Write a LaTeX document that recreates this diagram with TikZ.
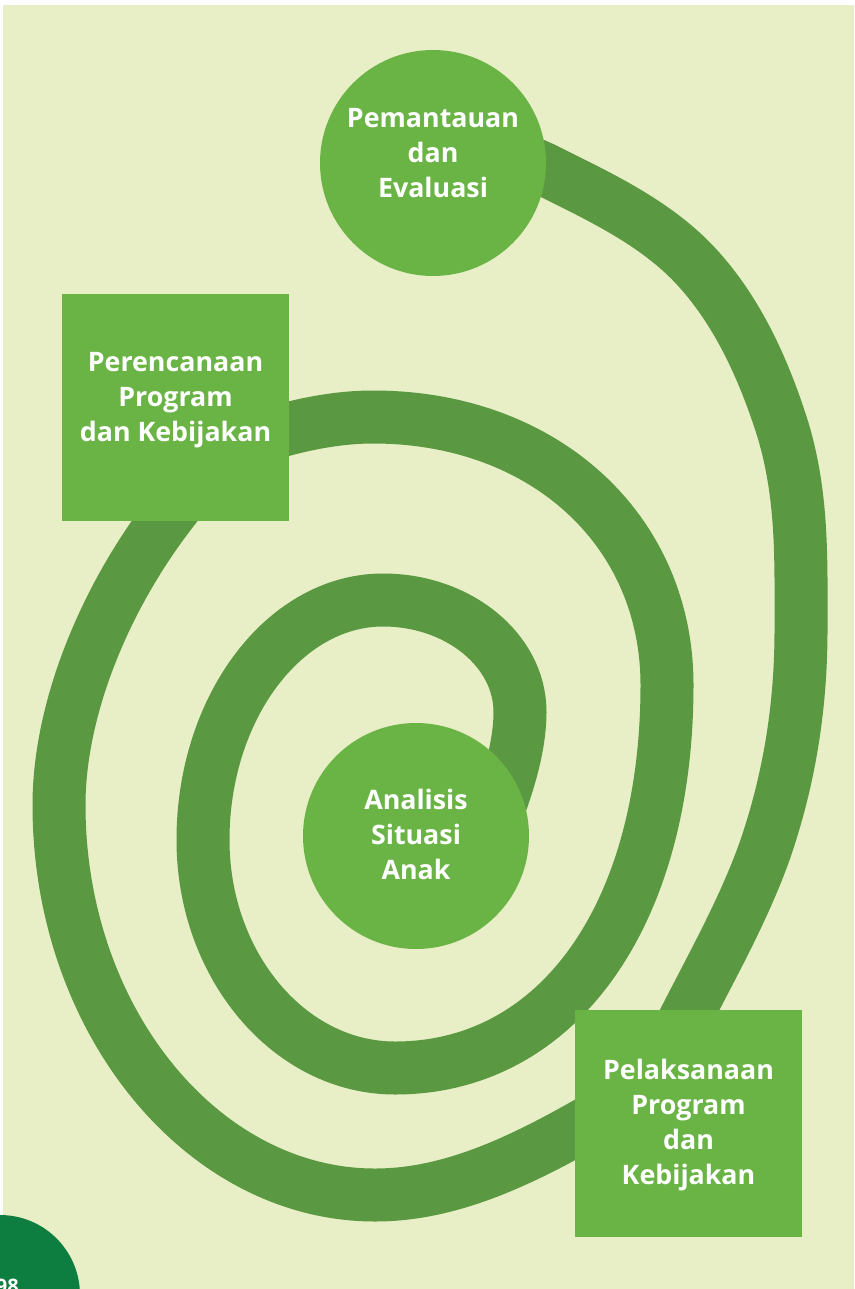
\documentclass[tikz,border=0pt]{standalone}
\usepackage{fontspec}
\setmainfont{Open Sans}
\definecolor{bgc}{HTML}{E8EEC6}
\definecolor{spc}{HTML}{5A9942}
\definecolor{ndc}{HTML}{6AB446}
\definecolor{dkc}{HTML}{0E7D40}
\tikzset{
  spiral/.style={draw=spc, line width=53pt, line cap=butt, line join=round},
  disc/.style={circle, fill=ndc, minimum size=226pt, inner sep=0pt},
  sqbox/.style={rectangle, fill=ndc, minimum size=227pt, inner sep=0pt},
  lbl/.style={text=white, align=center, font=\fontsize{26.8}{35}\selectfont\bfseries, inner sep=0pt}
}
\begin{document}
\begin{tikzpicture}[x=1pt,y=-1pt]
\useasboundingbox (0,0) rectangle (854,1289);
\fill[white] (0,0) rectangle (854,1289);
\fill[bgc] (3,5) rectangle (854,1289);
% end points of the spiral arms (each lies under a shape)
\coordinate (a0) at (490,830);
\coordinate (a1) at (230,448);
\coordinate (b0) at (205,472);
\coordinate (b1) at (630,1098);
\coordinate (c0) at (660,1070);
\coordinate (c1) at (490,150);
% inner arm: Analisis -> Perencanaan
\draw[spiral] (a0) .. controls (505,795) and (520,750) .. (520,712)
  .. controls (520,650) and (458,600) .. (383,600)
  .. controls (284,600) and (203,708) .. (203,840)
  .. controls (203,965) and (289,1068) .. (395,1068)
  .. controls (558,1068) and (667,915) .. (667,685)
  .. controls (667,530) and (544,417) .. (373,417)
  .. controls (330,417) and (280,428) .. (a1);
% outer arm: Perencanaan -> Pelaksanaan
\draw[spiral] (b0) .. controls (118,565) and (59,696) .. (59,805)
  .. controls (59,1020) and (202,1195) .. (375,1195)
  .. controls (460,1195) and (540,1152) .. (b1);
% outermost arm: Pelaksanaan -> Pemantauan
\draw[spiral] (c0) .. controls (694,996) and (738,926) .. (765,850)
  .. controls (788,783) and (801,711) .. (801,630)
  .. controls (801,560) and (803,497) .. (783,430)
  .. controls (763.5,368) and (735.5,306) .. (690,260)
  .. controls (649,219) and (594,194) .. (542,168)
  .. controls (520,158) and (505,154) .. (c1);
% shapes and texts
\node[disc] (pem) at (433,163) {};
\node[lbl] (pemT) at (433,153) {Pemantauan\\dan\\Evaluasi};
\node[sqbox] (per) at (175.5,407.5) {};
\node[lbl] (perT) at (175.5,400) {Perencanaan\\Program\\dan Kebijakan};
\node[disc] (ana) at (416,836) {};
\node[lbl] (anaT) at (416,834) {Analisis\\Situasi\\Anak};
\node[sqbox] (pel) at (688.5,1123.5) {};
\node[lbl] (pelT) at (688.5,1125) {Pelaksanaan\\Program\\dan\\Kebijakan};
% page corner
\fill[dkc] (0,1295) circle (80);
\node[text=white, font=\fontsize{20}{20}\selectfont\bfseries, anchor=base east, inner sep=0pt] (pg) at (19,1293) {98};
\end{tikzpicture}
\end{document}
